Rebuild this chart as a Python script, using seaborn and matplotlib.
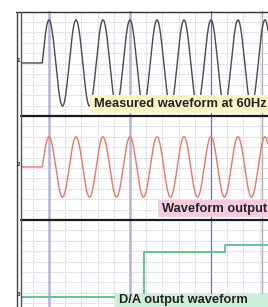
import numpy as np
import pandas as pd
import matplotlib
matplotlib.use("Agg")
import matplotlib.pyplot as plt
from matplotlib.patches import Rectangle
from matplotlib.lines import Line2D
import seaborn as sns

# ---------------- data ----------------
channels = ["1", "2", "3"]
labels = ["Measured waveform at 60Hz", "Waveform output", "D/A output waveform"]
freq_hz = 60.0
start_ms = -4.17            # signal switches on here (quarter period before first peak)
ch1_amp = 4.1               # divisions
ch1_offset = 0.05
ch2_amp = 2.9
ch2_offset = 0.1
da_times_ms = [-17.3, 58.6, 58.6, 108.6, 108.6, 135.2]
da_levels = [-2.4, -2.4, 1.92, 1.92, 2.6, 2.6]
t_min_ms, t_max_ms = -17.3, 135.2

# ---------------- signals ----------------
t = np.linspace(t_min_ms, t_max_ms, 1500)
on = t >= start_ms
phase = 2 * np.pi * freq_hz * (t - start_ms) / 1000.0
ch1 = ch1_offset + np.where(on, ch1_amp * np.sin(phase), 0.0)
ch2 = ch2_offset + np.where(on, ch2_amp * np.sin(phase), 0.0)
df1 = pd.DataFrame({"t": t, "v": ch1})
df2 = pd.DataFrame({"t": t, "v": ch2})
df3 = pd.DataFrame({"t": da_times_ms, "v": da_levels})

sns.set_theme(style="white")
plt.rcParams["font.family"] = ["Liberation Sans", "DejaVu Sans"]

W, H = 268, 307
fig = plt.figure(figsize=(W / 100, H / 100), dpi=100)
fig.patch.set_facecolor("white")

def fx(px):
    return px / W

def fy(py):
    return 1 - py / H

panel_top = [11, 116, 220]
panel_h = [105, 104, 104]
left_px = 21
axes = []
for top, h in zip(panel_top, panel_h):
    ax = fig.add_axes([fx(left_px), fy(top + h), (W - left_px) / W, h / H])
    ax.set_xlim(t_min_ms, t_max_ms)
    ax.set_ylim(-5, 5)
    ax.set_facecolor("white")
    for s in ax.spines.values():
        s.set_visible(False)
    ax.set_xticks([])
    ax.set_yticks([])
    # minor dotted grid
    for xv in np.arange(-10, 140, 10):
        if xv in (0, 50, 100):
            continue
        ax.axvline(xv, color="#c9c9ec", lw=0.6, ls=(0, (2.0, 1.5)), zorder=1)
    for yv in np.arange(-4, 5, 1):
        ax.axhline(yv, color="#c9c9ec", lw=0.6, ls=(0, (2.0, 1.5)), zorder=1)
    ax.axvline(0, color="#b4b4de", lw=1.8, zorder=1)
    ax.axvline(50, color="#b4b4de", lw=1.8, zorder=1)
    ax.axvline(100, color="#6a6ac8", lw=0.9, zorder=1)
    ax.axvline(131.3, color="#b0b0b0", lw=1.0, zorder=1)
    axes.append(ax)

sns.lineplot(data=df1, x="t", y="v", ax=axes[0], color="#4a4a4a", lw=1.0,
             estimator=None, sort=False, zorder=3)
sns.lineplot(data=df2, x="t", y="v", ax=axes[1], color="#f2765f", lw=1.0,
             estimator=None, sort=False, zorder=3)
sns.lineplot(data=df3, x="t", y="v", ax=axes[2], color="#66c795", lw=1.5,
             estimator=None, sort=False, zorder=3)
for ax in axes:
    ax.set_xlabel("")
    ax.set_ylabel("")
    ax.set_xlim(t_min_ms, t_max_ms)
    ax.set_ylim(-5, 5)

# frame lines
def hline(y, x0, x1, color, lw):
    fig.add_artist(Line2D([fx(x0), fx(x1)], [fy(y), fy(y)], color=color, lw=lw,
                          transform=fig.transFigure, zorder=5))

def vline(x, y0, y1, color, lw):
    fig.add_artist(Line2D([fx(x), fx(x)], [fy(y0), fy(y1)], color=color, lw=lw,
                          transform=fig.transFigure, zorder=5))

hline(11.5, 16, W, "#333333", 1.0)
hline(116, 21, W, "#1a1a1a", 1.6)
hline(220, 21, W, "#1a1a1a", 1.6)
vline(16.5, 11.5, H, "#444444", 1.0)
vline(21, 11.5, H, "#555555", 1.0)

# channel markers
for ch, ypx in zip(channels, [61, 165, 295]):
    fig.text(fx(18.7), fy(ypx), ch, fontsize=4.5, fontweight="bold", color="#222222",
             ha="center", va="center", zorder=6)

# label boxes: (x0, y0, y1, colour, text baseline y)
boxes = [
    (90, 95, 113, "#fbf4c4", 104.5, "center"),
    (158, 200, 217, "#f7cade", 209, "center"),
    (115, 294, 310, "#cdeed8", 306, "bottom"),
]
for (x0, y0, y1, col, ty, va), lab in zip(boxes, labels):
    fig.add_artist(Rectangle((fx(x0), fy(y1)), (W - x0) / W, (y1 - y0) / H,
                             transform=fig.transFigure, facecolor=col,
                             edgecolor="none", zorder=7))
    fig.text(fx(x0 + 4), fy(ty), lab, fontsize=9.3, fontweight="bold",
             color="#222222", ha="left", va=va, zorder=8)

fig.savefig("out.png", dpi=100)
